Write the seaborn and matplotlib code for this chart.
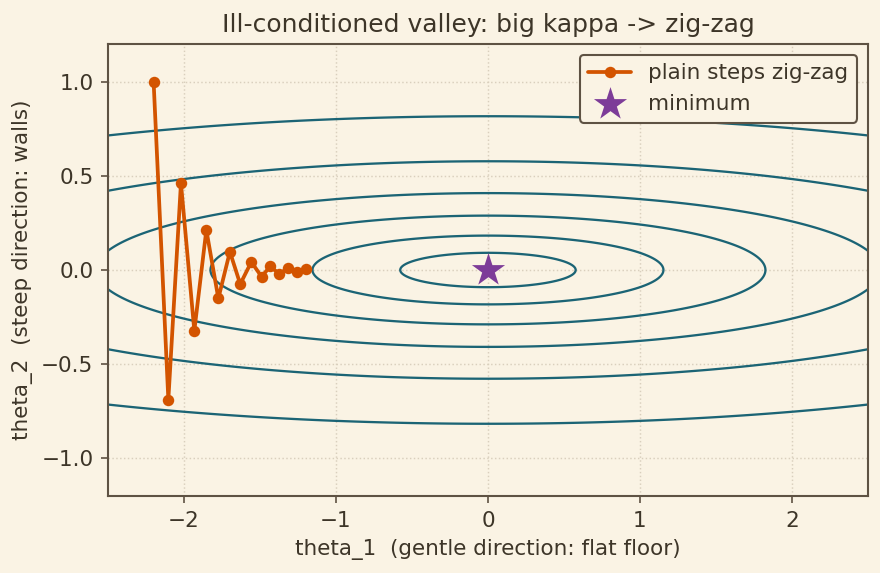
import numpy as np
import pandas as pd
import matplotlib
matplotlib.use("Agg")
import matplotlib.pyplot as plt
import seaborn as sns

# path (plain gradient steps)
path_x = [-2.20, -2.103, -2.02, -1.932, -1.853, -1.774, -1.698, -1.63, -1.557,
          -1.49, -1.432, -1.373, -1.314, -1.256, -1.198]
path_y = [1.00, -0.688, 0.461, -0.323, 0.213, -0.151, 0.097, -0.075, 0.043,
          -0.035, 0.019, -0.021, 0.011, -0.009, 0.004]
min_x = [0.0]
min_y = [0.0]

# valley shape f = a*theta_1^2 + c*theta_2^2 and the drawn contour levels
coef_a = 0.3
coef_c = 12.0
levels = [0.1, 0.4, 1, 2, 4, 8]

bg = "#faf3e4"
ink = "#3d3528"
spine = "#5e5243"

sns.set_theme(style="whitegrid")
plt.rcParams.update({
    "figure.facecolor": bg,
    "axes.facecolor": bg,
    "axes.edgecolor": spine,
    "axes.labelcolor": ink,
    "text.color": ink,
    "xtick.color": ink,
    "ytick.color": ink,
    "grid.color": "#d9cfbd",
    "grid.linestyle": ":",
    "font.family": ["DejaVu Sans"],
})

fig, ax = plt.subplots(figsize=(5.873, 3.82), dpi=150)
plt.subplots_adjust(left=0.1226, right=0.9852, top=0.9232, bottom=0.1344)

gx = np.linspace(-2.5, 2.5, 400)
gy = np.linspace(-1.2, 1.2, 400)
X, Y = np.meshgrid(gx, gy)
Z = coef_a * X**2 + coef_c * Y**2
ax.contour(X, Y, Z, levels=levels, colors="#1b6475", linewidths=1.1)

df = pd.DataFrame({"x": path_x, "y": path_y})
sns.lineplot(data=df, x="x", y="y", sort=False, ax=ax, color="#d35400",
             marker="o", markersize=5.5, markeredgewidth=0, linewidth=1.8,
             label="plain steps zig-zag")
ax.scatter(min_x, min_y, marker="*", s=280, color="#7d3c98", zorder=5,
           label="minimum", linewidths=0)

ax.set_xlim(-2.5, 2.5)
ax.set_ylim(-1.2, 1.2)
ax.set_xticks([-2, -1, 0, 1, 2])
ax.set_yticks([-1.0, -0.5, 0.0, 0.5, 1.0])
ax.tick_params(labelsize=10.3, length=3.5, width=0.8, color=spine, bottom=True, left=True)
for s in ax.spines.values():
    s.set_linewidth(1.0)
ax.grid(True, linewidth=0.7)

ax.set_title("Ill-conditioned valley: big kappa -> zig-zag", fontsize=12)
ax.set_xlabel("theta_1  (gentle direction: flat floor)", fontsize=10.3)
ax.set_ylabel("theta_2  (steep direction: walls)", fontsize=10.3)

leg = ax.legend(loc="upper right", fontsize=10.3, facecolor=bg, edgecolor=spine,
                framealpha=1.0)
leg.get_frame().set_linewidth(1.0)

fig.savefig("out.png", dpi=150, facecolor=bg)
